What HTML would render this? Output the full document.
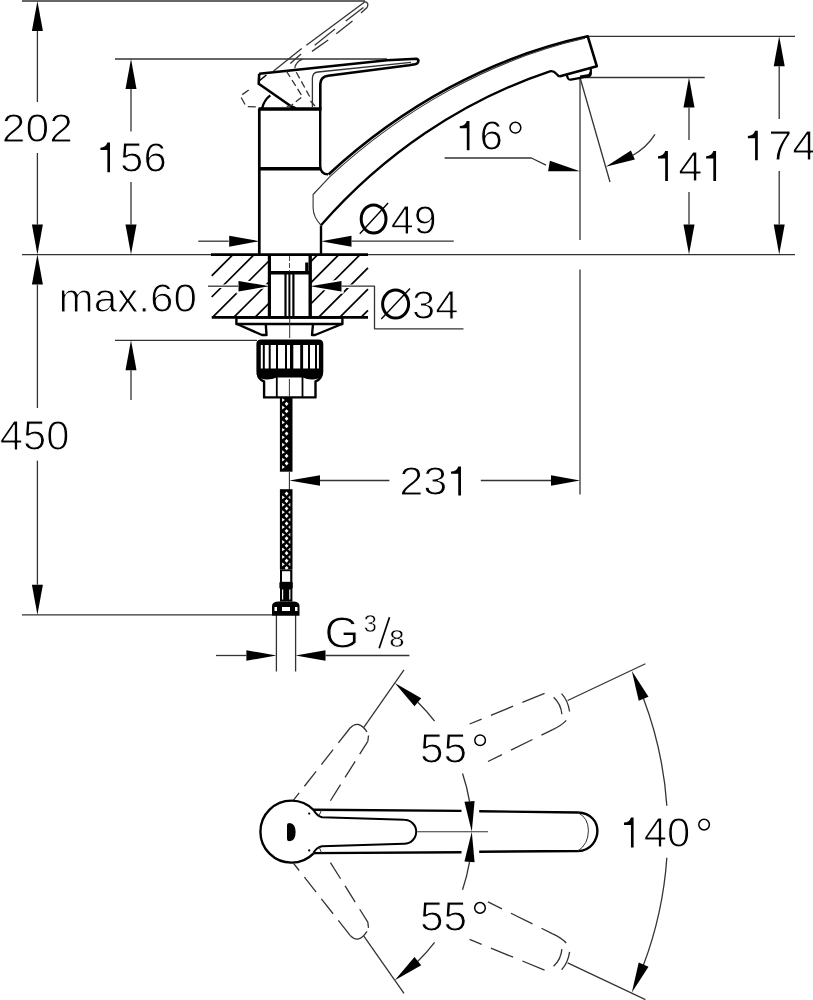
<!DOCTYPE html>
<html><head><meta charset="utf-8"><style>
html,body{margin:0;padding:0;background:#fff;width:813px;height:1000px;overflow:hidden}
svg{display:block}
text{font-family:"Liberation Sans",sans-serif}
</style></head><body>
<svg style="will-change:transform" width="813" height="1000" viewBox="0 0 813 1000" stroke="#000" stroke-linecap="butt" stroke-linejoin="round">
<line x1="22.00" y1="1.00" x2="365.00" y2="1.00" stroke-width="1.3" stroke="#333" />
<line x1="115.00" y1="59.00" x2="387.00" y2="59.00" stroke-width="1.3" stroke="#333" />
<line x1="22.00" y1="254.60" x2="795.00" y2="254.60" stroke-width="1.3" stroke="#333" />
<polygon points="37.40,1.00 42.90,31.00 31.90,31.00" fill="#000" stroke="none"/>
<line x1="37.40" y1="31.00" x2="37.40" y2="102.00" stroke-width="1.3" stroke="#333" />
<line x1="37.40" y1="153.00" x2="37.40" y2="224.60" stroke-width="1.3" stroke="#333" />
<polygon points="37.40,254.60 31.90,224.60 42.90,224.60" fill="#000" stroke="none"/>
<g transform="matrix(0.42594 0 0 0.41243 1.77 142.49)"><text x="0.00" y="0" font-size="100" fill="#000" stroke="#fff" stroke-width="2.47">2</text><text x="55.62" y="0" font-size="100" fill="#000" stroke="#fff" stroke-width="2.47">0</text><text x="111.23" y="0" font-size="100" fill="#000" stroke="#fff" stroke-width="2.47">2</text></g>
<polygon points="131.00,59.00 136.50,89.00 125.50,89.00" fill="#000" stroke="none"/>
<line x1="131.00" y1="89.00" x2="131.00" y2="131.50" stroke-width="1.3" stroke="#333" />
<line x1="131.00" y1="182.00" x2="131.00" y2="224.60" stroke-width="1.3" stroke="#333" />
<polygon points="131.00,254.60 125.50,224.60 136.50,224.60" fill="#000" stroke="none"/>
<g transform="matrix(0.41956 0 0 0.42373 96.75 171.98)"><path d="M25.30,-69.5 L31.60,-69.5 L31.60,0.6 L25.30,0.6 L25.30,-52 L8.70,-52 L8.70,-57.4 Q21.80,-57.6 25.30,-69.5 Z" fill="#000" stroke="none"/><text x="55.62" y="0" font-size="100" fill="#000" stroke="#fff" stroke-width="2.50">5</text><text x="111.23" y="0" font-size="100" fill="#000" stroke="#fff" stroke-width="2.50">6</text></g>
<polygon points="37.40,254.60 42.90,284.60 31.90,284.60" fill="#000" stroke="none"/>
<line x1="37.40" y1="284.60" x2="37.40" y2="408.00" stroke-width="1.3" stroke="#333" />
<line x1="37.40" y1="460.60" x2="37.40" y2="584.70" stroke-width="1.3" stroke="#333" />
<polygon points="37.40,614.80 31.90,584.70 42.90,584.70" fill="#000" stroke="none"/>
<g transform="matrix(0.41773 0 0 0.42514 -0.16 449.97)"><text x="0.00" y="0" font-size="100" fill="#000" stroke="#fff" stroke-width="2.51">4</text><text x="55.62" y="0" font-size="100" fill="#000" stroke="#fff" stroke-width="2.51">5</text><text x="111.23" y="0" font-size="100" fill="#000" stroke="#fff" stroke-width="2.51">0</text></g>
<line x1="22.00" y1="614.80" x2="272.00" y2="614.80" stroke-width="1.3" stroke="#333" />
<line x1="115.00" y1="340.30" x2="257.00" y2="340.30" stroke-width="1.3" stroke="#333" />
<polygon points="131.00,340.30 136.50,370.30 125.50,370.30" fill="#000" stroke="none"/>
<line x1="131.00" y1="370.30" x2="131.00" y2="400.00" stroke-width="1.3" stroke="#333" />
<text transform="matrix(0.42177 0 0 0.41549 58.55 312.38)" font-size="100" fill="#000" stroke="#fff" stroke-width="2.49">max.60</text>
<ellipse cx="395.6" cy="304.1" rx="13.0" ry="14.0" fill="none" stroke-width="3"/>
<line x1="381.30" y1="319.10" x2="410.00" y2="288.40" stroke-width="1.4" />
<g transform="matrix(0.41716 0 0 0.41102 412.11 319.19)"><text x="0.00" y="0" font-size="100" fill="#000" stroke="#fff" stroke-width="2.52">3</text><text x="55.62" y="0" font-size="100" fill="#000" stroke="#fff" stroke-width="2.52">4</text></g>
<line x1="198.30" y1="241.20" x2="228.70" y2="241.20" stroke-width="1.3" stroke="#333" />
<polygon points="259.70,241.20 229.20,246.70 229.20,235.70" fill="#000" stroke="none"/>
<polygon points="321.00,241.20 351.50,235.70 351.50,246.70" fill="#000" stroke="none"/>
<line x1="351.50" y1="241.20" x2="453.80" y2="241.20" stroke-width="1.3" stroke="#333" />
<ellipse cx="373.6" cy="219.0" rx="12.4" ry="14.0" fill="none" stroke-width="3"/>
<line x1="359.80" y1="233.70" x2="388.10" y2="203.00" stroke-width="1.4" />
<g transform="matrix(0.41357 0 0 0.40254 390.85 233.60)"><text x="0.00" y="0" font-size="100" fill="#000" stroke="#fff" stroke-width="2.54">4</text><text x="55.62" y="0" font-size="100" fill="#000" stroke="#fff" stroke-width="2.54">9</text></g>
<line x1="588.00" y1="36.30" x2="795.00" y2="36.30" stroke-width="1.3" stroke="#333" />
<polygon points="779.20,36.30 784.70,66.30 773.70,66.30" fill="#000" stroke="none"/>
<line x1="779.20" y1="66.30" x2="779.20" y2="119.00" stroke-width="1.3" stroke="#333" />
<line x1="779.20" y1="171.00" x2="779.20" y2="224.60" stroke-width="1.3" stroke="#333" />
<polygon points="779.20,254.60 773.70,224.60 784.70,224.60" fill="#000" stroke="none"/>
<g transform="matrix(0.43226 0 0 0.41940 744.14 159.95)"><path d="M25.30,-69.5 L31.60,-69.5 L31.60,0.6 L25.30,0.6 L25.30,-52 L8.70,-52 L8.70,-57.4 Q21.80,-57.6 25.30,-69.5 Z" fill="#000" stroke="none"/><text x="55.62" y="0" font-size="100" fill="#000" stroke="#fff" stroke-width="2.43">7</text><text x="111.23" y="0" font-size="100" fill="#000" stroke="#fff" stroke-width="2.43">4</text></g>
<line x1="585.00" y1="77.50" x2="704.70" y2="77.50" stroke-width="1.3" stroke="#333" />
<polygon points="689.00,77.50 694.50,107.50 683.50,107.50" fill="#000" stroke="none"/>
<line x1="689.00" y1="107.50" x2="689.00" y2="140.00" stroke-width="1.3" stroke="#333" />
<line x1="689.00" y1="192.00" x2="689.00" y2="224.60" stroke-width="1.3" stroke="#333" />
<polygon points="689.00,254.60 683.50,224.60 694.50,224.60" fill="#000" stroke="none"/>
<g transform="matrix(0.43294 0 0 0.42939 654.23 180.84)"><path d="M25.30,-69.5 L31.60,-69.5 L31.60,0.6 L25.30,0.6 L25.30,-52 L8.70,-52 L8.70,-57.4 Q21.80,-57.6 25.30,-69.5 Z" fill="#000" stroke="none"/><text x="55.62" y="0" font-size="100" fill="#000" stroke="#fff" stroke-width="2.43">4</text><path d="M136.53,-69.5 L142.83,-69.5 L142.83,0.6 L136.53,0.6 L136.53,-52 L119.93,-52 L119.93,-57.4 Q133.03,-57.6 136.53,-69.5 Z" fill="#000" stroke="none"/></g>
<polyline points="444.60,158.00 531.40,158.00 546.00,165.20" fill="none" stroke-width="1.3" stroke="#333" />
<polygon points="580.00,171.30 548.12,171.13 549.88,160.87" fill="#000" stroke="none"/>
<line x1="580.00" y1="77.50" x2="580.00" y2="240.00" stroke-width="1.3" stroke="#333" />
<line x1="580.00" y1="269.50" x2="580.00" y2="494.40" stroke-width="1.3" stroke="#333" />
<line x1="580.00" y1="77.50" x2="610.00" y2="182.00" stroke-width="1.3" stroke="#333" />
<g transform="matrix(0.42195 0 0 0.41808 456.13 149.98)"><path d="M25.30,-69.5 L31.60,-69.5 L31.60,0.6 L25.30,0.6 L25.30,-52 L8.70,-52 L8.70,-57.4 Q21.80,-57.6 25.30,-69.5 Z" fill="#000" stroke="none"/><text x="55.62" y="0" font-size="100" fill="#000" stroke="#fff" stroke-width="2.49">6</text></g>
<circle cx="515.4" cy="127.7" r="5.4" fill="none" stroke-width="1.5"/>
<polygon points="605.70,166.80 630.91,150.41 634.89,159.59" fill="#000" stroke="none"/>
<path d="M632.5,155.5 Q647,147 655,134.3" fill="none" stroke-width="1.3" stroke="#333" />
<polygon points="289.40,480.50 320.00,475.20 320.00,485.80" fill="#000" stroke="none"/>
<line x1="320.00" y1="480.50" x2="389.40" y2="480.50" stroke-width="1.3" stroke="#333" />
<line x1="480.80" y1="480.50" x2="551.00" y2="480.50" stroke-width="1.3" stroke="#333" />
<polygon points="580.00,480.50 551.00,485.80 551.00,475.20" fill="#000" stroke="none"/>
<g transform="matrix(0.43292 0 0 0.41243 399.14 495.19)"><text x="0.00" y="0" font-size="100" fill="#000" stroke="#fff" stroke-width="2.43">2</text><text x="55.62" y="0" font-size="100" fill="#000" stroke="#fff" stroke-width="2.43">3</text><path d="M136.53,-69.5 L142.83,-69.5 L142.83,0.6 L136.53,0.6 L136.53,-52 L119.93,-52 L119.93,-57.4 Q133.03,-57.6 136.53,-69.5 Z" fill="#000" stroke="none"/></g>
<line x1="276.40" y1="615.00" x2="276.40" y2="671.50" stroke-width="1.3" stroke="#333" />
<line x1="295.60" y1="615.00" x2="295.60" y2="671.50" stroke-width="1.3" stroke="#333" />
<line x1="216.00" y1="655.50" x2="246.40" y2="655.50" stroke-width="1.3" stroke="#333" />
<polygon points="276.40,655.50 246.40,660.80 246.40,650.20" fill="#000" stroke="none"/>
<polygon points="295.60,655.50 325.50,650.20 325.50,660.80" fill="#000" stroke="none"/>
<line x1="325.50" y1="655.50" x2="409.40" y2="655.50" stroke-width="1.3" stroke="#333" />
<text transform="matrix(0.45077 0 0 0.43662 324.45 647.76)" font-size="100" fill="#000" stroke="#fff" stroke-width="2.33">G</text>
<g transform="matrix(0.23629 0 0 0.23023 363.70 632.47)"><text x="0.00" y="0" font-size="100" fill="#000" stroke="#fff" stroke-width="1.90">3</text></g>
<g transform="matrix(0.27447 0 0 0.23164 389.22 647.17)"><text x="0.00" y="0" font-size="100" fill="#000" stroke="#fff" stroke-width="1.64">8</text></g>
<line x1="379.20" y1="648.20" x2="389.50" y2="617.20" stroke-width="1.7" />
<path d="M259.3,108.6 V254.6" fill="none" stroke-width="2.7" />
<path d="M258.5,109 H321.5" fill="none" stroke-width="3.6" />
<path d="M258.5,168.7 H320" fill="none" stroke-width="3.6" />
<path d="M321,225.5 V254.6" fill="none" stroke-width="2.4" />
<path d="M211,254.6 H368" fill="none" stroke-width="2.6" />
<path d="M211.7,317.4 H368" fill="none" stroke-width="2.8" />
<path d="M259.2,73.8 L387,60.3 L416.5,58.8 Q418.8,59.5 418.3,61.5 Q417.8,63.7 415,64.2 L409,65.3 L328,75.8 Q320.5,77 320.3,84 V109" fill="none" stroke-width="2.6" />
<path d="M259.2,73.8 L258.7,83.8 L291.4,106.5 L296,108.5" fill="none" stroke-width="2.6" />
<path d="M259,81 L266.4,75" fill="none" stroke-width="1.6" />
<path d="M312.4,107 V78 Q312.6,72.5 318,72 L411,62.4" fill="none" stroke-width="1.3" stroke="#333" />
<path d="M262,108.7 Q264,100 270.3,95.4" fill="none" stroke-width="2.4" />
<path d="M320.2,109 V166 Q320.5,174.4 328,174.4" fill="none" stroke-width="2.4" />
<path d="M328.5,174.5 C401.1,107.2 490.4,57 587.7,36.2 L596.8,66.2 L559.2,76.6" fill="none" stroke-width="2.6" />
<path d="M320.8,225 Q313.3,217 313.1,208 V194.5 L329.9,176.6 C402.5,109.3 491,59.4 585,38.3" fill="none" stroke-width="1.1" stroke="#333" />
<path d="M321,225.3 C382.4,155.2 461.4,100.8 549.9,71.3 Q554,70.8 556,73.5 L559.2,76.6" fill="none" stroke-width="2.3" />
<path d="M566.8,75.2 L568,78.5 Q569,80 571,79.6 L588.5,76.4 Q591,75.5 590.8,73 L590.8,68.2" fill="none" stroke-width="2.2" />
<path d="M580,76.6 L589,75 L590.8,72" fill="none" stroke-width="2.0" />
<line x1="273.30" y1="71.20" x2="301.70" y2="48.40" stroke-width="1.3" stroke="#333" />
<line x1="306.40" y1="45.30" x2="365.00" y2="1.70" stroke-width="1.3" stroke="#333" />
<line x1="290.30" y1="63.60" x2="301.10" y2="54.10" stroke-width="1.3" stroke="#333" />
<line x1="314.70" y1="45.30" x2="335.00" y2="29.10" stroke-width="1.3" stroke="#333" />
<line x1="345.80" y1="21.00" x2="363.40" y2="7.40" stroke-width="1.3" stroke="#333" />
<line x1="312.00" y1="51.40" x2="328.20" y2="40.00" stroke-width="1.3" stroke="#333" />
<line x1="336.30" y1="33.80" x2="352.50" y2="21.00" stroke-width="1.3" stroke="#333" />
<path d="M365,1.7 Q369.5,3 367,7.5 L361,13" fill="none" stroke-width="1.3" stroke="#333" />
<path d="M294.8,68.2 Q295.5,62 302.5,59.1" fill="none" stroke-width="1.3" stroke="#333" />
<path d="M286.4,71.1 L302.4,96.5 L291.4,105.4 L282.5,107.5" fill="none" stroke-width="1.3" stroke="#333" stroke-dasharray="7 3.5"/>
<path d="M296.3,72.2 L309.6,96.5" fill="none" stroke-width="1.3" stroke="#333" stroke-dasharray="7 3.5"/>
<path d="M248.7,89.9 L240.4,96 L244.9,104.3 L246,106.5 L256.5,107" fill="none" stroke-width="1.3" stroke="#333" stroke-dasharray="8 4"/>
<path d="M310.5,101 L315,106" fill="none" stroke-width="1.3" stroke="#333" />
<line x1="211.70" y1="275.80" x2="232.90" y2="254.60" stroke-width="1.7" />
<line x1="211.70" y1="297.00" x2="254.10" y2="254.60" stroke-width="1.7" />
<line x1="212.50" y1="317.40" x2="269.40" y2="260.50" stroke-width="1.7" />
<line x1="233.70" y1="317.40" x2="269.40" y2="281.70" stroke-width="1.7" />
<line x1="254.90" y1="317.40" x2="269.40" y2="302.90" stroke-width="1.7" />
<line x1="310.20" y1="262.10" x2="317.70" y2="254.60" stroke-width="1.7" />
<line x1="310.20" y1="283.30" x2="338.90" y2="254.60" stroke-width="1.7" />
<line x1="310.20" y1="304.50" x2="360.10" y2="254.60" stroke-width="1.7" />
<line x1="318.50" y1="317.40" x2="368.00" y2="267.90" stroke-width="1.7" />
<line x1="339.70" y1="317.40" x2="368.00" y2="289.10" stroke-width="1.7" />
<line x1="360.90" y1="317.40" x2="368.00" y2="310.30" stroke-width="1.7" />
<line x1="205" y1="286.2" x2="269" y2="286.2" stroke="#fff" stroke-width="3.6"/>
<line x1="310" y1="286.2" x2="368" y2="286.2" stroke="#fff" stroke-width="3.6"/>
<polygon points="269.4,286.2 237.5,280 237.5,292.4" fill="#fff" stroke="#fff" stroke-width="2.5"/>
<polygon points="310.2,286.2 342.5,280 342.5,292.4" fill="#fff" stroke="#fff" stroke-width="2.5"/>
<line x1="208.00" y1="286.20" x2="238.00" y2="286.20" stroke-width="1.3" stroke="#333" />
<polygon points="269.40,286.20 238.50,291.40 238.50,281.00" fill="#000" stroke="none"/>
<polygon points="310.20,286.20 341.50,281.00 341.50,291.40" fill="#000" stroke="none"/>
<polyline points="341.50,286.20 374.50,286.20 374.50,328.80 463.50,328.80" fill="none" stroke-width="1.3" stroke="#333" />
<path d="M269.4,254.6 V317.4" fill="none" stroke-width="3.2" />
<path d="M310.2,254.6 V317.4" fill="none" stroke-width="3.4" />
<path d="M269.4,272.8 H310.2" fill="none" stroke-width="3.4" />
<path d="M306.8,262.5 V272.8" fill="none" stroke-width="3.2" />
<path d="M285.5,272.8 V317.4" fill="none" stroke-width="2.2" />
<path d="M289.4,272.8 V317.4" fill="none" stroke-width="2.0" />
<path d="M293.4,272.8 V317.4" fill="none" stroke-width="2.2" />
<line x1="289.50" y1="256.00" x2="289.50" y2="272.00" stroke-width="0.9" stroke="#333" stroke-dasharray="5 2"/>
<rect x="236.4" y="317.6" width="106" height="6.4" fill="none" stroke-width="2.4"/>
<path d="M237,324 L262,335 L266.5,335 L265.8,324" fill="none" stroke-width="2.4" />
<path d="M342,324 L315,335 L312,335 L313,324" fill="none" stroke-width="2.4" />
<line x1="289.70" y1="318.00" x2="289.70" y2="338.00" stroke-width="1.0" stroke="#333" />
<path d="M256.4,344 Q256.4,339.4 261,339.4 H318.7 Q323.3,339.4 323.3,344 V372 Q323,378.5 315,379.2 Q308,380 303,377.5 H276.5 Q271,380 264,379.2 Q256.6,378.5 256.4,372 Z" fill="#000" stroke="none"/>
<rect x="260.8" y="345" width="2.00" height="23.5" fill="#fff" stroke="none"/>
<rect x="264.8" y="345" width="3.90" height="23.5" fill="#fff" stroke="none"/>
<rect x="270.7" y="345" width="5.30" height="23.5" fill="#fff" stroke="none"/>
<rect x="278" y="345" width="7.00" height="23.5" fill="#fff" stroke="none"/>
<rect x="287" y="345" width="3.00" height="23.5" fill="#fff" stroke="none"/>
<rect x="293.3" y="345" width="6.90" height="23.5" fill="#fff" stroke="none"/>
<rect x="303.1" y="345" width="4.90" height="23.5" fill="#fff" stroke="none"/>
<rect x="310" y="345" width="5.00" height="23.5" fill="#fff" stroke="none"/>
<rect x="317" y="345" width="1.90" height="23.5" fill="#fff" stroke="none"/>
<path d="M257.6,373 Q258.5,379.5 264.1,381.5 V397.4 H315.5 V381.5 Q321,379.5 322,373" fill="none" stroke-width="2.4" />
<path d="M276.8,377 V397.4" fill="none" stroke-width="1.8" />
<path d="M302.5,377 V397.4" fill="none" stroke-width="1.8" />
<line x1="289.40" y1="379.00" x2="289.40" y2="397.00" stroke-width="1.0" stroke="#333" />
<rect x="279.9" y="397.4" width="12.6" height="74.30" fill="#000" stroke="none"/>
<path d="M286.6,401.70 L288.5,403.80 L286.6,405.90 L284.7,403.80 Z" fill="#fff" stroke="none"/>
<path d="M282.1,398.15 L284.9,400.05 L282.1,401.95 Z" fill="#fff" stroke="none"/>
<path d="M286.6,409.15 L288.5,411.25 L286.6,413.35 L284.7,411.25 Z" fill="#fff" stroke="none"/>
<path d="M282.1,405.60 L284.9,407.50 L282.1,409.40 Z" fill="#fff" stroke="none"/>
<path d="M286.6,416.60 L288.5,418.70 L286.6,420.80 L284.7,418.70 Z" fill="#fff" stroke="none"/>
<path d="M282.1,413.05 L284.9,414.95 L282.1,416.85 Z" fill="#fff" stroke="none"/>
<path d="M286.6,424.05 L288.5,426.15 L286.6,428.25 L284.7,426.15 Z" fill="#fff" stroke="none"/>
<path d="M282.1,420.50 L284.9,422.40 L282.1,424.30 Z" fill="#fff" stroke="none"/>
<path d="M286.6,431.50 L288.5,433.60 L286.6,435.70 L284.7,433.60 Z" fill="#fff" stroke="none"/>
<path d="M282.1,427.95 L284.9,429.85 L282.1,431.75 Z" fill="#fff" stroke="none"/>
<path d="M286.6,438.95 L288.5,441.05 L286.6,443.15 L284.7,441.05 Z" fill="#fff" stroke="none"/>
<path d="M282.1,435.40 L284.9,437.30 L282.1,439.20 Z" fill="#fff" stroke="none"/>
<path d="M286.6,446.40 L288.5,448.50 L286.6,450.60 L284.7,448.50 Z" fill="#fff" stroke="none"/>
<path d="M282.1,442.85 L284.9,444.75 L282.1,446.65 Z" fill="#fff" stroke="none"/>
<path d="M286.6,453.85 L288.5,455.95 L286.6,458.05 L284.7,455.95 Z" fill="#fff" stroke="none"/>
<path d="M282.1,450.30 L284.9,452.20 L282.1,454.10 Z" fill="#fff" stroke="none"/>
<path d="M286.6,461.30 L288.5,463.40 L286.6,465.50 L284.7,463.40 Z" fill="#fff" stroke="none"/>
<path d="M282.1,457.75 L284.9,459.65 L282.1,461.55 Z" fill="#fff" stroke="none"/>
<path d="M282.1,465.20 L284.9,467.10 L282.1,469.00 Z" fill="#fff" stroke="none"/>
<line x1="289.40" y1="471.70" x2="289.40" y2="490.00" stroke-width="1.1" stroke="#333" />
<rect x="279.9" y="489.2" width="12.6" height="80.30" fill="#000" stroke="none"/>
<path d="M286.6,491.50 L288.5,493.60 L286.6,495.70 L284.7,493.60 Z" fill="#fff" stroke="none"/>
<path d="M286.6,498.95 L288.5,501.05 L286.6,503.15 L284.7,501.05 Z" fill="#fff" stroke="none"/>
<path d="M282.1,495.40 L284.9,497.30 L282.1,499.20 Z" fill="#fff" stroke="none"/>
<path d="M290.3,495.40 L288.1,497.30 L290.3,499.20 Z" fill="#ddd" stroke="none"/>
<path d="M286.6,506.40 L288.5,508.50 L286.6,510.60 L284.7,508.50 Z" fill="#fff" stroke="none"/>
<path d="M282.1,502.85 L284.9,504.75 L282.1,506.65 Z" fill="#fff" stroke="none"/>
<path d="M290.3,502.85 L288.1,504.75 L290.3,506.65 Z" fill="#ddd" stroke="none"/>
<path d="M286.6,513.85 L288.5,515.95 L286.6,518.05 L284.7,515.95 Z" fill="#fff" stroke="none"/>
<path d="M282.1,510.30 L284.9,512.20 L282.1,514.10 Z" fill="#fff" stroke="none"/>
<path d="M290.3,510.30 L288.1,512.20 L290.3,514.10 Z" fill="#ddd" stroke="none"/>
<path d="M286.6,521.30 L288.5,523.40 L286.6,525.50 L284.7,523.40 Z" fill="#fff" stroke="none"/>
<path d="M282.1,517.75 L284.9,519.65 L282.1,521.55 Z" fill="#fff" stroke="none"/>
<path d="M290.3,517.75 L288.1,519.65 L290.3,521.55 Z" fill="#ddd" stroke="none"/>
<path d="M286.6,528.75 L288.5,530.85 L286.6,532.95 L284.7,530.85 Z" fill="#fff" stroke="none"/>
<path d="M282.1,525.20 L284.9,527.10 L282.1,529.00 Z" fill="#fff" stroke="none"/>
<path d="M290.3,525.20 L288.1,527.10 L290.3,529.00 Z" fill="#ddd" stroke="none"/>
<path d="M286.6,536.20 L288.5,538.30 L286.6,540.40 L284.7,538.30 Z" fill="#fff" stroke="none"/>
<path d="M282.1,532.65 L284.9,534.55 L282.1,536.45 Z" fill="#fff" stroke="none"/>
<path d="M290.3,532.65 L288.1,534.55 L290.3,536.45 Z" fill="#ddd" stroke="none"/>
<path d="M286.6,543.65 L288.5,545.75 L286.6,547.85 L284.7,545.75 Z" fill="#fff" stroke="none"/>
<path d="M282.1,540.10 L284.9,542.00 L282.1,543.90 Z" fill="#fff" stroke="none"/>
<path d="M290.3,540.10 L288.1,542.00 L290.3,543.90 Z" fill="#ddd" stroke="none"/>
<path d="M286.6,551.10 L288.5,553.20 L286.6,555.30 L284.7,553.20 Z" fill="#fff" stroke="none"/>
<path d="M282.1,547.55 L284.9,549.45 L282.1,551.35 Z" fill="#fff" stroke="none"/>
<path d="M290.3,547.55 L288.1,549.45 L290.3,551.35 Z" fill="#ddd" stroke="none"/>
<path d="M286.6,558.55 L288.5,560.65 L286.6,562.75 L284.7,560.65 Z" fill="#fff" stroke="none"/>
<path d="M282.1,555.00 L284.9,556.90 L282.1,558.80 Z" fill="#fff" stroke="none"/>
<path d="M290.3,555.00 L288.1,556.90 L290.3,558.80 Z" fill="#ddd" stroke="none"/>
<path d="M286.6,566.00 L288.5,568.10 L286.6,570.20 L284.7,568.10 Z" fill="#fff" stroke="none"/>
<path d="M282.1,562.45 L284.9,564.35 L282.1,566.25 Z" fill="#fff" stroke="none"/>
<path d="M290.3,562.45 L288.1,564.35 L290.3,566.25 Z" fill="#ddd" stroke="none"/>
<rect x="280" y="569.5" width="12.4" height="32" fill="#000" stroke="none"/>
<rect x="282" y="571.2" width="8.2" height="10.6" fill="#fff" stroke="none"/>
<rect x="279.4" y="582.3" width="13.3" height="6" fill="#000" stroke="none"/>
<rect x="282" y="589.5" width="1.2" height="10" fill="#fff" stroke="none"/>
<rect x="289.2" y="589.5" width="1.2" height="10" fill="#fff" stroke="none"/>
<path d="M272,606 Q272,601.5 279,601.5 H293 Q299.5,601.5 299.5,606 V615.8 H272 Z" fill="#000" stroke="none"/>
<rect x="274.5" y="607" width="2.5" height="4" fill="#fff" stroke="none"/>
<rect x="282" y="607" width="8" height="4" fill="#fff" stroke="none"/>
<rect x="295" y="607" width="2.5" height="4" fill="#fff" stroke="none"/>
<line x1="363.84" y1="727.27" x2="403.99" y2="669.93" stroke-width="1.3" stroke="#333" />
<line x1="567.65" y1="700.53" x2="645.40" y2="663.78" stroke-width="1.3" stroke="#333" />
<line x1="363.84" y1="936.13" x2="403.99" y2="993.47" stroke-width="1.3" stroke="#333" />
<line x1="567.65" y1="962.87" x2="645.40" y2="999.62" stroke-width="1.3" stroke="#333" />
<path d="M417.86,702.20 A181,181 0 0 1 434.60,721.11" fill="none" stroke-width="1.3" stroke="#333" />
<path d="M462.55,773.57 A181,181 0 0 1 469.52,801.43" fill="none" stroke-width="1.3" stroke="#333" />
<polygon points="394.82,683.03 421.25,698.13 414.48,706.28" fill="#000" stroke="none"/>
<polygon points="471.80,831.80 464.43,801.81 474.60,801.04" fill="#000" stroke="none"/>
<path d="M417.86,961.20 A181,181 0 0 0 434.60,942.29" fill="none" stroke-width="1.3" stroke="#333" />
<path d="M462.55,889.83 A181,181 0 0 0 469.52,861.97" fill="none" stroke-width="1.3" stroke="#333" />
<polygon points="394.82,980.37 414.48,957.12 421.25,965.27" fill="#000" stroke="none"/>
<polygon points="471.80,831.80 474.60,862.36 464.43,861.59" fill="#000" stroke="none"/>
<path d="M643.38,698.15 A376.7,376.7 0 0 1 666.83,805.68" fill="none" stroke-width="1.3" stroke="#333" />
<polygon points="631.85,670.91 648.50,696.70 638.73,700.82" fill="#000" stroke="none"/>
<path d="M643.38,965.25 A376.7,376.7 0 0 0 666.83,857.72" fill="none" stroke-width="1.3" stroke="#333" />
<polygon points="631.85,992.49 638.73,962.58 648.50,966.70" fill="#000" stroke="none"/>
<g transform="matrix(0.42518 0 0 0.42837 419.90 762.77)"><text x="0.00" y="0" font-size="100" fill="#000" stroke="#fff" stroke-width="2.47">5</text><text x="55.62" y="0" font-size="100" fill="#000" stroke="#fff" stroke-width="2.47">5</text></g>
<circle cx="480.1" cy="740.2" r="5.3" fill="none" stroke-width="1.5"/>
<g transform="matrix(0.42518 0 0 0.42837 419.90 930.57)"><text x="0.00" y="0" font-size="100" fill="#000" stroke="#fff" stroke-width="2.47">5</text><text x="55.62" y="0" font-size="100" fill="#000" stroke="#fff" stroke-width="2.47">5</text></g>
<circle cx="480" cy="907.9" r="5.3" fill="none" stroke-width="1.5"/>
<g transform="matrix(0.41885 0 0 0.42797 620.36 847.17)"><path d="M25.30,-69.5 L31.60,-69.5 L31.60,0.6 L25.30,0.6 L25.30,-52 L8.70,-52 L8.70,-57.4 Q21.80,-57.6 25.30,-69.5 Z" fill="#000" stroke="none"/><text x="55.62" y="0" font-size="100" fill="#000" stroke="#fff" stroke-width="2.51">4</text><text x="111.23" y="0" font-size="100" fill="#000" stroke="#fff" stroke-width="2.51">0</text></g>
<circle cx="704.1" cy="824.6" r="5.3" fill="none" stroke-width="1.5"/>
<path d="M313.6,810 A31,31 0 1 0 313.6,853.3" fill="none" stroke-width="2.4" />
<path d="M313.4,809.8 L461.5,810.9 M479.2,811.2 L578,812.5 C591,813 597.4,822 597.4,830.8 C597.4,840 591,850.5 578,851 L479.2,851.8 M461.5,852.2 L313.4,853.1" fill="none" stroke-width="2.4" />
<path d="M578,812.6 Q588.5,818 588.4,830.8 Q588.3,844 578,851" fill="none" stroke-width="1.0" stroke="#333" />
<path d="M313.5,810 Q317,816 322,817.3 L404.2,819.8 A12,12 0 0 1 404.2,843.8 L322,846.2 Q317,847 313.5,852.6" fill="none" stroke-width="2.0" />
<line x1="417.20" y1="831.70" x2="488.00" y2="831.70" stroke-width="1.1" stroke="#333" />
<path d="M287,825 Q287,823 289.5,823 Q295.6,823.5 295.6,832 Q295.6,841 289.5,841.3 Q287,841.3 287,839 Z" fill="#000" stroke="none"/>
<path d="M321.5,810 L319,815.8" fill="none" stroke-width="1.0" stroke="#333" />
<path d="M321.5,852.6 L319,846.8" fill="none" stroke-width="1.0" stroke="#333" />
<circle cx="309.2" cy="813.6" r="1.1" fill="#000" stroke="none"/>
<circle cx="309.2" cy="850.4" r="1.1" fill="#000" stroke="none"/>
<path d="M293.30,800.40 L350.10,728.00" fill="none" stroke-width="1.3" stroke="#333" stroke-dasharray="19 8.5" stroke-dashoffset="9.5"/>
<path d="M367.80,741.30 L330.20,801.10" fill="none" stroke-width="1.3" stroke="#333" stroke-dasharray="19 8.5" stroke-dashoffset="3.8"/>
<path d="M350.10,728.00 Q358.50,719.00 367.00,732.00" fill="none" stroke-width="1.3" stroke="#333" />
<path d="M368.50,735.50 L367.80,741.30" fill="none" stroke-width="1.3" stroke="#333" />
<path d="M469.60,724.00 L552.70,690.00" fill="none" stroke-width="1.3" stroke="#333" stroke-dasharray="24 10" stroke-dashoffset="11"/>
<path d="M552.20,729.80 L488.00,761.50" fill="none" stroke-width="1.3" stroke="#333" stroke-dasharray="24 10" stroke-dashoffset="12"/>
<path d="M553.60,697.20 Q561.00,704.00 561.90,714.30" fill="none" stroke-width="1.3" stroke="#333" />
<path d="M561.60,693.60 Q568.00,700.50 569.60,711.50" fill="none" stroke-width="1.3" stroke="#333" />
<path d="M566.30,720.40 Q561.00,726.00 552.20,729.80" fill="none" stroke-width="1.3" stroke="#333" />
<path d="M293.30,863.00 L350.10,935.40" fill="none" stroke-width="1.3" stroke="#333" stroke-dasharray="19 8.5" stroke-dashoffset="9.5"/>
<path d="M367.80,922.10 L330.20,862.30" fill="none" stroke-width="1.3" stroke="#333" stroke-dasharray="19 8.5" stroke-dashoffset="3.8"/>
<path d="M350.10,935.40 Q358.50,944.40 367.00,931.40" fill="none" stroke-width="1.3" stroke="#333" />
<path d="M368.50,927.90 L367.80,922.10" fill="none" stroke-width="1.3" stroke="#333" />
<path d="M469.60,939.40 L552.70,973.40" fill="none" stroke-width="1.3" stroke="#333" stroke-dasharray="24 10" stroke-dashoffset="11"/>
<path d="M552.20,933.60 L488.00,901.90" fill="none" stroke-width="1.3" stroke="#333" stroke-dasharray="24 10" stroke-dashoffset="12"/>
<path d="M553.60,966.20 Q561.00,959.40 561.90,949.10" fill="none" stroke-width="1.3" stroke="#333" />
<path d="M561.60,969.80 Q568.00,962.90 569.60,951.90" fill="none" stroke-width="1.3" stroke="#333" />
<path d="M566.30,943.00 Q561.00,937.40 552.20,933.60" fill="none" stroke-width="1.3" stroke="#333" />
</svg></body></html>
